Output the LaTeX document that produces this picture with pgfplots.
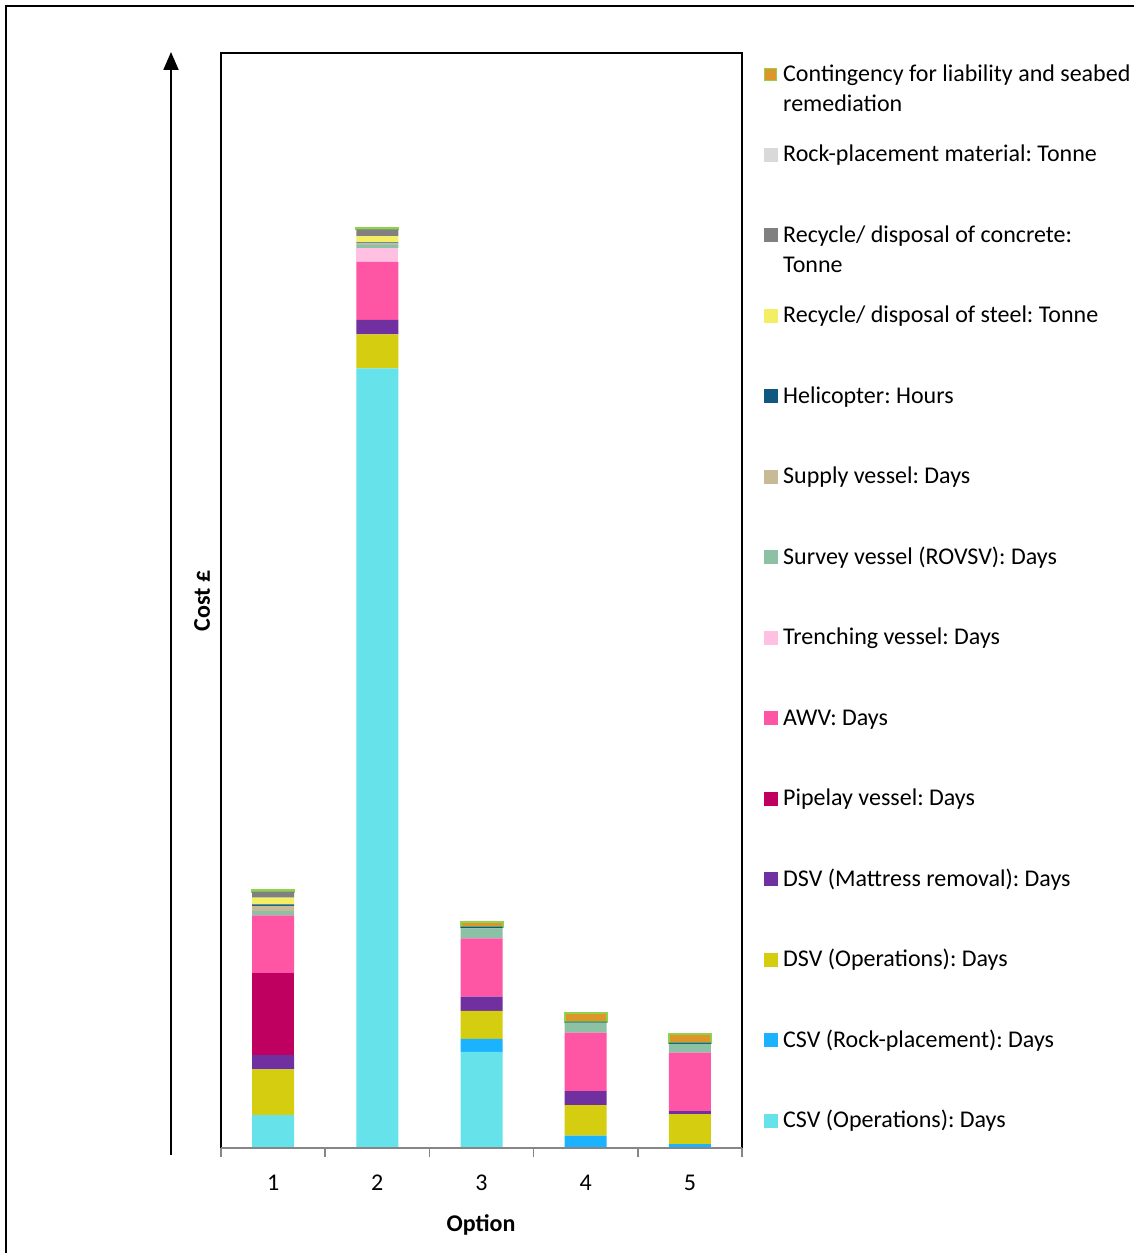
\documentclass[border=0pt]{standalone}
\usepackage{fontspec}
\setmainfont{Carlito}
\usepackage{pgfplots}
\usepackage{pgfplotstable}
\pgfplotsset{compat=1.18}
\usetikzlibrary{arrows.meta}
\frenchspacing

% segment colours, bottom of the stack first
\definecolor{csvops}{RGB}{102,226,234}
\definecolor{csvrock}{RGB}{27,178,255}
\definecolor{dsvops}{RGB}{213,205,16}
\definecolor{dsvmat}{RGB}{112,48,160}
\definecolor{pipelay}{RGB}{192,0,96}
\definecolor{awv}{RGB}{255,85,165}
\definecolor{trench}{RGB}{255,192,225}
\definecolor{survey}{RGB}{140,193,165}
\definecolor{supply}{RGB}{200,186,150}
\definecolor{heli}{RGB}{16,88,128}
\definecolor{steel}{RGB}{243,238,100}
\definecolor{concrete}{RGB}{128,128,128}
\definecolor{rockmat}{RGB}{217,217,217}
\definecolor{conting}{RGB}{221,150,40}
\definecolor{contedge}{RGB}{146,208,80}
\definecolor{axisgray}{RGB}{134,134,134}

% cost build-up per option (relative units)
\pgfplotstableread{
opt csvops csvrock dsvops dsvmat pipelay awv  trench survey supply heli steel concrete rockmat conting
1   33     0       45.7   14.3   81.7    58   0      4.3    5      1.7  6.6   6        0       1.5
2   779.7  0       34     14.3   0       58   14     3      1.5    1    6.3   6.7      0       1.5
3   96     13      28     14.3   0       58.4 0      10     0      1.6  0     0        0       4.5
4   0      12.3    30.7   14     0       58.3 0      10     0      1    0     0        0       9
5   0      4       30     3      0       58.3 0      8.7    0      1.3  0     0        0       9
}\costdata

\tikzset{px/.style={x=1pt,y=-1pt,shift={(-221pt,1148pt)}}}
\newcommand{\legfont}{\fontsize{24}{30}\selectfont}
\newcommand{\legentry}[3]{%
  \fill[#1] (763.5,#2-14) rectangle (777.5,#2);
  \node[anchor=base west,inner sep=0pt,font=\legfont] at (783,#2) {#3};}

\begin{document}
\begin{tikzpicture}
\path[use as bounding box,px] (0,0) rectangle (1134,1253);

\begin{axis}[
  scale only axis,
  width=521pt, height=1095pt,
  xmin=0.5, xmax=5.5, ymin=0, ymax=1095,
  ybar stacked, bar width=42pt,
  axis line style={draw=none},
  ytick=\empty,
  xtick={1,2,3,4,5}, xticklabels={1,2,3,4,5},
  major tick length=0pt,
  minor xtick={0.5,1.5,2.5,3.5,4.5,5.5},
  minor tick length=9pt,
  tick align=outside,
  xtick pos=left,
  minor tick style={axisgray,line width=1.5pt},
  xticklabel style={font=\legfont,anchor=base,yshift=-42pt},
  clip=false,
  after end axis/.code={
    \draw[black,line width=2pt] (rel axis cs:0,0) -- (rel axis cs:0,1)
      -- (rel axis cs:1,1) -- (rel axis cs:1,0);
    \draw[axisgray,line width=2pt] (rel axis cs:0,0) -- (rel axis cs:1,0);
  },
]
\addplot[fill=csvops,draw=none]   table[x=opt,y=csvops]{\costdata};
\addplot[fill=csvrock,draw=none]  table[x=opt,y=csvrock]{\costdata};
\addplot[fill=dsvops,draw=none]   table[x=opt,y=dsvops]{\costdata};
\addplot[fill=dsvmat,draw=none]   table[x=opt,y=dsvmat]{\costdata};
\addplot[fill=pipelay,draw=none]  table[x=opt,y=pipelay]{\costdata};
\addplot[fill=awv,draw=none]      table[x=opt,y=awv]{\costdata};
\addplot[fill=trench,draw=none]   table[x=opt,y=trench]{\costdata};
\addplot[fill=survey,draw=none]   table[x=opt,y=survey]{\costdata};
\addplot[fill=supply,draw=none]   table[x=opt,y=supply]{\costdata};
\addplot[fill=heli,draw=none]     table[x=opt,y=heli]{\costdata};
\addplot[fill=steel,draw=none]    table[x=opt,y=steel]{\costdata};
\addplot[fill=concrete,draw=none] table[x=opt,y=concrete]{\costdata};
\addplot[fill=rockmat,draw=none]  table[x=opt,y=rockmat]{\costdata};
\addplot[fill=conting,draw=contedge,line width=2pt] table[x=opt,y=conting]{\costdata};
\end{axis}

\begin{scope}[px]
  % frame of the whole figure
  \draw[black,line width=2pt] (6,1253) -- (6,6) -- (1134,6);
  % cost arrow
  \draw[line width=2pt,-{Triangle[length=18pt,width=15pt]}] (171,1155) -- (171,52);
  \node[rotate=90,anchor=base,inner sep=0pt,font=\bfseries\legfont] at (210,601) {Cost £};
  \node[anchor=base,inner sep=0pt,font=\bfseries\legfont] at (481,1231.5) {Option};

  % legend
  \fill[conting,draw=contedge,line width=1.5pt] (764.3,68.3) rectangle (776.7,80.3);
  \node[anchor=base west,inner sep=0pt,font=\legfont] at (783,81.3) {Contingency for liability and seabed};
  \node[anchor=base west,inner sep=0pt,font=\legfont] at (783,111.3) {remediation};
  \legentry{rockmat}{161.8}{Rock-placement material: Tonne}
  \legentry{concrete}{242.3}{Recycle/ disposal of concrete:}
  \node[anchor=base west,inner sep=0pt,font=\legfont] at (783,272.3) {Tonne};
  \legentry{steel}{322.8}{Recycle/ disposal of steel: Tonne}
  \legentry{heli}{403.3}{Helicopter: Hours}
  \legentry{supply}{483.8}{Supply vessel: Days}
  \legentry{survey}{564.3}{Survey vessel (ROVSV): Days}
  \legentry{trench}{644.8}{Trenching vessel: Days}
  \legentry{awv}{725.3}{AWV: Days}
  \legentry{pipelay}{805.8}{Pipelay vessel: Days}
  \legentry{dsvmat}{886.3}{DSV (Mattress removal): Days}
  \legentry{dsvops}{966.8}{DSV (Operations): Days}
  \legentry{csvrock}{1047.3}{CSV (Rock-placement): Days}
  \legentry{csvops}{1127.8}{CSV (Operations): Days}
\end{scope}
\end{tikzpicture}
\end{document}
